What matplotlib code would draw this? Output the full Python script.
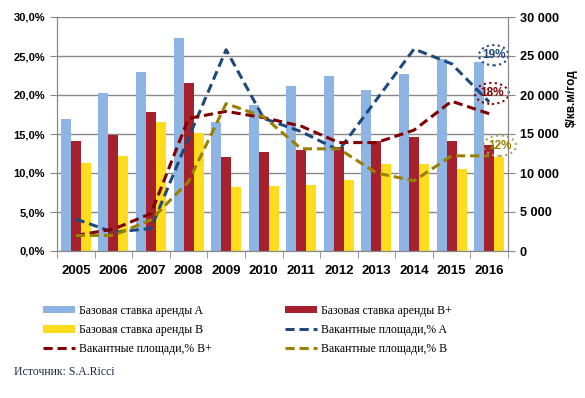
import numpy as np
from matplotlib import pyplot as plt
from matplotlib.patches import Ellipse

years = ['2005', '2006', '2007', '2008', '2009', '2010', '2011', '2012', '2013', '2014', '2015', '2016']

# base rent, $/sq.m/year
rent_a = [16900, 20300, 22900, 27300, 16500, 18700, 21200, 22400, 20600, 22700, 24600, 24200]
rent_bp = [14100, 14900, 17800, 21500, 12050, 12700, 12900, 13300, 14100, 14600, 14100, 13600]
rent_b = [11300, 12200, 16500, 15100, 8200, 8300, 8500, 9100, 11200, 11200, 10500, 12050]

# vacancy, %
vac_a = [4.1, 2.4, 2.9, 14.5, 25.8, 17.0, 15.3, 12.9, 19.4, 25.9, 24.0, 19.1]
vac_bp = [2.0, 2.8, 4.8, 17.0, 17.9, 17.1, 16.0, 13.9, 13.9, 15.5, 19.2, 17.6]
vac_b = [2.0, 2.0, 4.0, 8.9, 18.9, 17.2, 13.1, 13.1, 10.0, 9.0, 12.2, 12.2]

last_labels = ['19%', '18%', '12%']

c_a, c_bp, c_b = '#8DB4E2', '#A6202E', '#FFDD1E'
l_a, l_bp, l_b = '#1F497D', '#800000', '#998000'

plt.rcParams['font.family'] = ['Liberation Sans', 'DejaVu Sans']

fig = plt.figure(figsize=(5.85, 3.98), dpi=100)
ax = fig.add_axes([57/585, 1-251/398, 451/585, 234/398])
ax2 = ax.twinx()

x = np.arange(len(years))
w = 0.266
b1 = ax.bar(x - w, rent_a, w, color=c_a, label='Базовая ставка аренды A')
b2 = ax.bar(x, rent_bp, w, color=c_bp, label='Базовая ставка аренды B+')
b3 = ax.bar(x + w, rent_b, w, color=c_b, label='Базовая ставка аренды B')

ln1, = ax2.plot(x, vac_a, color=l_a, lw=2.2, dashes=(3, 1.6), label='Вакантные площади,% A')
ln2, = ax2.plot(x, vac_bp, color=l_bp, lw=2.2, dashes=(3, 1.6), label='Вакантные площади,% B+')
ln3, = ax2.plot(x, vac_b, color=l_b, lw=2.2, dashes=(3, 1.6), label='Вакантные площади,% B')

ax.set_xlim(-0.5, 11.5)
ax.set_ylim(0, 30000)
ax2.set_ylim(0, 30)

ax.set_yticks(np.arange(0, 30001, 5000))
ax.set_yticklabels(['0'] + ['{:,}'.format(v).replace(',', ' ') for v in range(5000, 30001, 5000)])
ax.yaxis.tick_right()
ax.grid(axis='y', color='#888888', lw=1)
ax.set_axisbelow(True)

ax2.set_yticks(np.arange(0, 31, 5))
ax2.set_yticklabels(['{:.1f}%'.format(v).replace('.', ',') for v in range(0, 31, 5)])
ax2.yaxis.tick_left()

ax.set_xticks(x)
ax.set_xticklabels(years)
ax.set_xticks(np.arange(-0.5, 12, 1), minor=True)
ax.tick_params(axis='x', which='major', length=0, pad=10)
ax.tick_params(axis='x', which='minor', length=5, color='#888888')

for a in (ax, ax2):
    a.spines['top'].set_visible(False)
    for s in ('left', 'right', 'bottom'):
        a.spines[s].set_color('#888888')
    a.tick_params(axis='y', length=5, color='#888888')
for lab in ax.get_xticklabels():
    lab.set_fontweight('bold')
    lab.set_fontsize(9.5)
for lab in ax.get_yticklabels():
    lab.set_fontweight('bold')
    lab.set_fontsize(9.2)
for lab in ax2.get_yticklabels():
    lab.set_fontweight('bold')
    lab.set_fontsize(8)

# circled last values
ell = [(11.12, 25.1, 0.78, 2.6, l_a, l_a),
       (11.07, 20.2, 0.9, 2.7, l_bp, l_bp),
       (11.28, 13.5, 0.88, 2.6, '#B0A060', l_b)]
for (ex, ey, ew, eh, ec, tc), t in zip(ell, last_labels):
    ax2.add_patch(Ellipse((ex, ey), ew, eh, fill=False, ec=ec, lw=1.5, ls=':', clip_on=False))
    ax2.text(ex, ey, t, color=tc, ha='center', va='center', fontsize=8.5, fontweight='bold')

fig.text(572/585, 1-98/398, '$/кв.м/год', rotation=90, ha='center', va='center',
         fontsize=8.5, fontweight='bold')

leg_font = {'family': 'Liberation Serif', 'size': 8.5}
fig.legend([b1, b3, ln2], [b1.get_label(), b3.get_label(), ln2.get_label()],
           loc='upper left', bbox_to_anchor=(38/585, 1-300/398), frameon=False,
           prop=leg_font, handlelength=2.7, handleheight=0.6, labelspacing=0.62,
           handletextpad=0.35, borderaxespad=0)
fig.legend([b2, ln1, ln3], [b2.get_label(), ln1.get_label(), ln3.get_label()],
           loc='upper left', bbox_to_anchor=(280/585, 1-300/398), frameon=False,
           prop=leg_font, handlelength=2.7, handleheight=0.6, labelspacing=0.62,
           handletextpad=0.35, borderaxespad=0)

fig.text(14/585, 1-372/398, 'Источник: S.A.Ricci', color='#1F2A44', ha='left', va='center',
         family='Liberation Serif', fontsize=8.5)

fig.savefig('out.png', dpi=100)
